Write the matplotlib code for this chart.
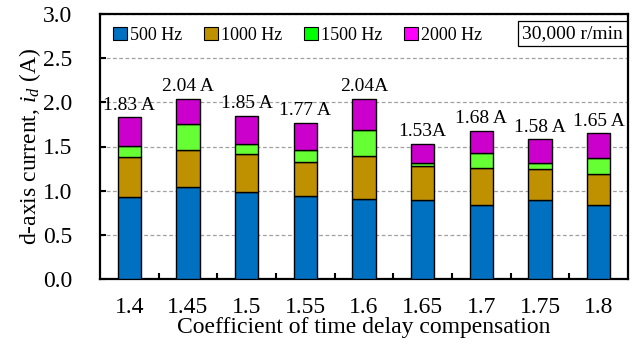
import matplotlib
matplotlib.use("Agg")
import matplotlib.pyplot as plt
import numpy as np
from matplotlib.patches import Patch

plt.rcParams["font.family"] = ["Liberation Serif", "DejaVu Serif"]
plt.rcParams["mathtext.fontset"] = "custom"
plt.rcParams["mathtext.it"] = "Liberation Serif:italic"
plt.rcParams["mathtext.rm"] = "Liberation Serif"

coeffs = ["1.4", "1.45", "1.5", "1.55", "1.6", "1.65", "1.7", "1.75", "1.8"]
hz_500 = [0.93, 1.04, 0.98, 0.94, 0.91, 0.90, 0.84, 0.89, 0.84]
hz_1000 = [0.45, 0.42, 0.43, 0.38, 0.48, 0.38, 0.42, 0.35, 0.35]
hz_1500 = [0.13, 0.29, 0.12, 0.14, 0.30, 0.03, 0.17, 0.07, 0.18]
hz_2000 = [0.32, 0.29, 0.32, 0.31, 0.35, 0.22, 0.25, 0.27, 0.28]
totals = ["1.83 A", "2.04 A", "1.85 A", "1.77 A", "2.04A", "1.53A", "1.68 A", "1.58 A", "1.65 A"]

series = [("500 Hz", hz_500, "#0070C0"),
          ("1000 Hz", hz_1000, "#BF9000"),
          ("1500 Hz", hz_1500, "#66FF33"),
          ("2000 Hz", hz_2000, "#CC00CC")]
legend_colors = ["#0070C0", "#BF9000", "#00FF00", "#FF00FF"]

fig = plt.figure(figsize=(6.35, 3.51), dpi=100)
ax = fig.add_axes([100 / 635, 72 / 351, 528 / 635, 265 / 351])

x = np.arange(len(coeffs))
bottom = np.zeros(len(coeffs))
for name, vals, color in series:
    ax.bar(x, vals, width=0.4, bottom=bottom, color=color,
           edgecolor="black", linewidth=1.0, zorder=3)
    bottom += np.array(vals)

for xi, top, txt in zip(x, bottom, totals):
    ax.text(xi, top + 0.04, txt, ha="center", va="bottom", fontsize=14)

ax.set_xlim(-0.5, len(coeffs) - 0.5)
ax.set_ylim(0, 3.0)
ax.set_yticks(np.arange(0, 3.01, 0.5))
ax.set_yticklabels([f"{v:.1f}" for v in np.arange(0, 3.01, 0.5)])
ax.set_xticks(x)
ax.set_xticklabels(coeffs)
ax.set_xticks(x[:-1] + 0.5, minor=True)
ax.tick_params(axis="x", which="major", length=0, labelsize=17, pad=13)
ax.tick_params(axis="x", which="minor", direction="in", length=4, width=1.5)
ax.tick_params(axis="y", direction="in", length=4, width=1.5, labelsize=17, pad=20)
ax.yaxis.grid(True, linestyle=(0, (3, 2)), color="#A0A0A0", linewidth=0.9, zorder=0)
for s in ax.spines.values():
    s.set_linewidth(1.6)

ax.set_xlabel("Coefficient of time delay compensation", fontsize=17, labelpad=-1)
ax.set_ylabel("d-axis current, $i_d$ (A)", fontsize=17, labelpad=0)

handles = [Patch(facecolor=c, edgecolor="black", linewidth=0.8) for c in legend_colors]
ax.legend(handles, [n for n, _, _ in series], loc="upper left", ncol=4,
          frameon=False, fontsize=13, handlelength=0.8, handleheight=0.8,
          handletextpad=0.15, columnspacing=1.2, borderaxespad=0.3,
          bbox_to_anchor=(0.0, 1.0))
ax.text(0.99, 0.925, "30,000 r/min", transform=ax.transAxes, ha="right",
        va="center", fontsize=14,
        bbox=dict(boxstyle="square,pad=0.2", facecolor="white", edgecolor="black", linewidth=0.9))

fig.savefig("out.png", dpi=100)
